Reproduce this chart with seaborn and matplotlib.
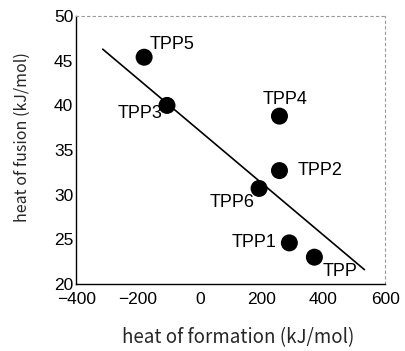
"""
Heat of fusion vs heat of formation for TPP derivatives, with a linear trend line.
"""

import matplotlib

matplotlib.use("Agg")
import matplotlib.pyplot as plt
import pandas as pd
import seaborn as sns

# Values
compounds = ["TPP5", "TPP3", "TPP4", "TPP2", "TPP6", "TPP1", "TPP"]
heat_of_formation = [-180, -106, 258, 258, 192, 290, 371]
heat_of_fusion = [45.4, 40.0, 38.8, 32.7, 30.7, 24.6, 23.0]

# Trend line end points
fit_x = [-314, 533]
fit_y = [46.3, 21.6]

# Label placement (offset in points, horizontal alignment)
label_offsets = {
    "TPP5": ((4, 9), "left"),
    "TPP3": ((-3, -6), "right"),
    "TPP4": ((4, 12), "center"),
    "TPP2": ((13, 0), "left"),
    "TPP6": ((-3, -10), "right"),
    "TPP1": ((-9, 0), "right"),
    "TPP": ((6, -10), "left"),
}


def main() -> None:
    sns.set_theme(style="white")
    plt.rcParams["font.family"] = ["Liberation Sans", "DejaVu Sans"]

    df = pd.DataFrame(
        {"name": compounds, "formation": heat_of_formation, "fusion": heat_of_fusion}
    )
    fit = pd.DataFrame({"x": fit_x, "y": fit_y})

    fig = plt.figure(figsize=(4.05, 3.51), dpi=100)
    ax = fig.add_axes([0.188, 0.191, 0.763, 0.763])

    sns.lineplot(data=fit, x="x", y="y", color="black", linewidth=1.2, ax=ax)
    sns.scatterplot(
        data=df, x="formation", y="fusion", color="black", s=150,
        edgecolor="none", zorder=3, ax=ax,
    )

    for _, row in df.iterrows():
        offset, ha = label_offsets[row["name"]]
        ax.annotate(
            row["name"], (row["formation"], row["fusion"]),
            xytext=offset, textcoords="offset points",
            ha=ha, va="center", fontsize=13, color="black",
        )

    ax.set_xlim(-400, 600)
    ax.set_ylim(20, 50)
    ax.set_xticks([-400, -200, 0, 200, 400, 600])
    ax.set_yticks([20, 25, 30, 35, 40, 45, 50])
    ax.set_xticklabels(["\u2212400", "\u2212200", "0", "200", "400", "600"])
    ax.tick_params(direction="in", length=4, width=0.8, labelsize=12.5, colors="black")
    ax.tick_params(axis="x", pad=6)
    ax.tick_params(axis="y", pad=2)

    for side in ["left", "bottom"]:
        ax.spines[side].set_color("black")
        ax.spines[side].set_linewidth(1.0)
    for side in ["top", "right"]:
        ax.spines[side].set_color("#999999")
        ax.spines[side].set_linestyle((0, (2, 3)))
        ax.spines[side].set_linewidth(0.8)

    label_font = ["Noto Sans CJK JP", "DejaVu Sans"]
    ax.set_xlabel("heat of formation (kJ/mol)", fontsize=13.5, family=label_font, va="center")
    ax.set_ylabel("heat of fusion (kJ/mol)", fontsize=11.5, family=label_font, va="center")
    ax.xaxis.set_label_coords(0.523, -0.2)
    ax.yaxis.set_label_coords(-0.175, 0.549)

    fig.savefig("out.png", dpi=100)


if __name__ == "__main__":
    main()
